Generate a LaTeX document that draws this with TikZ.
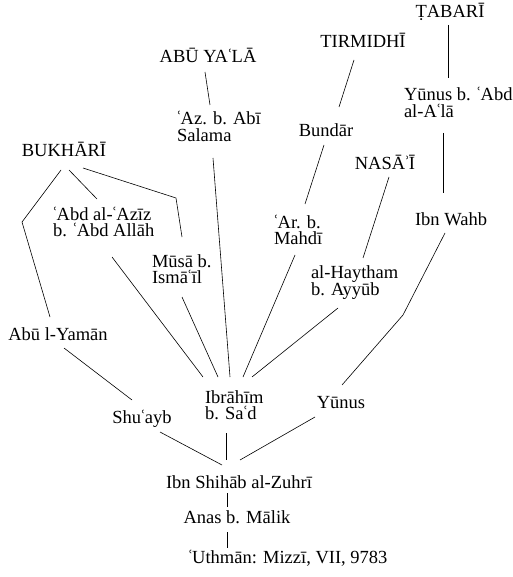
\documentclass[tikz,border=0pt]{standalone}
\usepackage{fontspec}
\setmainfont{Liberation Serif}
\newfontfamily\tmsfont{Liberation Serif}
\newcommand\ain{\makebox[0.2em][c]{ʿ}}
\newcommand\hmz{\makebox[0.2em][c]{ʾ}}
\newcommand\twolines[2]{\vtop{\hbox{#1}\hbox{#2}}}
\tikzset{
  nm/.style={inner sep=0pt, outer sep=0pt, font=\tmsfont\fontsize{18.5}{16.7}\selectfont},
  cb/.style={nm, anchor=base},
  lb/.style={nm, anchor=base west},
  ln/.style={line width=0.6pt, black}
}
\begin{document}
\begin{tikzpicture}[x=1pt,y=-1pt]
\useasboundingbox (0,0) rectangle (512,577);
% nodes
\node[cb] (tab) at (450,17.5) {\d{T}ABARĪ};
\node[cb] (tir) at (363,48) {TIRMIDHĪ};
\node[cb] (aby) at (208,63) {ABŪ YA\ain LĀ};
\node[cb] (buk) at (64,157) {BUKHĀRĪ};
\node[cb] (bun) at (326,137) {Bundār};
\node[cb] (nas) at (385,170) {NASĀ\hmz Ī};
\node[cb] (iwa) at (451,225) {Ibn Wahb};
\node[cb] (aly) at (58,340) {Abū l-Yamān};
\node[cb] (shu) at (142,423) {Shu\ain ayb};
\node[cb] (yun) at (341,408) {Yūnus};
\node[cb] (zuh) at (239,488) {Ibn Shihāb al-Zuhrī};
\node[cb] (ana) at (237,523) {Anas b. Mālik};
\node[cb] (uth) at (288,563) {\ain Uthmān: Mizzī, VII, 9783};
\node[lb] (yab) at (404,101) {\twolines{Yūnus b. \ain Abd}{al-A\ain lā}};
\node[lb] (azb) at (177,124.5) {\twolines{\ain Az. b. Abī}{Salama}};
\node[lb] (abd) at (53,220) {\twolines{\ain Abd al-\ain Azīz}{b. \ain Abd Allāh}};
\node[lb] (mus) at (152,267) {\twolines{Mūsā b.}{Ismā\ain īl}};
\node[lb] (arb) at (274,228) {\twolines{\ain Ar. b.}{Mahdī}};
\node[lb] (hay) at (311,278) {\twolines{al-Haytham}{b. Ayyūb}};
\node[lb] (ibr) at (205,403) {\twolines{Ibrāhīm}{b. Sa\ain d}};
% connectors
\draw[ln] ([shift={(-2,7.5)}]tab.base) -- ([shift={(44,-23)}]yab.base west);
\draw[ln] ([shift={(39,32)}]yab.base west) -- ([shift={(-8,-32)}]iwa.base);
\draw[ln] ([shift={(-9,12)}]tir.base) -- ([shift={(13,-30)}]bun.base);
\draw[ln] ([shift={(-2,8)}]bun.base) -- ([shift={(31,-24)}]arb.base west);
\draw[ln] ([shift={(4,7)}]nas.base) -- ([shift={(52,-20)}]hay.base west);
\draw[ln] ([shift={(-3,9)}]aby.base) -- ([shift={(33,-19.5)}]azb.base west);
\draw[ln] ([shift={(36,33.5)}]azb.base west) -- ([shift={(25,-26)}]ibr.base west);
\draw[ln] ([shift={(59,37)}]abd.base west) -- ([shift={(-2,-26)}]ibr.base west);
\draw[ln] ([shift={(30,30)}]mus.base west) -- ([shift={(13,-26)}]ibr.base west);
\draw[ln] ([shift={(21,27)}]arb.base west) -- ([shift={(38,-26)}]ibr.base west);
\draw[ln] ([shift={(27,30)}]hay.base west) -- ([shift={(47,-26)}]ibr.base west);
\draw[ln] ([shift={(-3,13)}]buk.base) -- ++(-39,52) -- ([shift={(-8,-23)}]aly.base);
\draw[ln] ([shift={(5,13)}]buk.base) -- ([shift={(44,-21)}]abd.base west);
\draw[ln] ([shift={(19,11)}]buk.base) -- ++(93,30) -- ([shift={(30,-30)}]mus.base west);
\draw[ln] ([shift={(6,8)}]aly.base) -- ([shift={(-10,-23)}]shu.base);
\draw[ln] ([shift={(-6,8)}]iwa.base) -- ++(-42,82) -- ([shift={(1,-23)}]yun.base);
\draw[ln] ([shift={(18,9)}]shu.base) -- ([shift={(-17,-23)}]zuh.base);
\draw[ln] ([shift={(21,30)}]ibr.base west) -- ([shift={(-13,-28)}]zuh.base);
\draw[ln] ([shift={(-26,9)}]yun.base) -- ([shift={(1,-28)}]zuh.base);
\draw[ln] ([shift={(-12,5)}]zuh.base) -- ([shift={(-10,-16)}]ana.base);
\draw[ln] ([shift={(-10,9)}]ana.base) -- ([shift={(-61,-15)}]uth.base);
\end{tikzpicture}
\end{document}
